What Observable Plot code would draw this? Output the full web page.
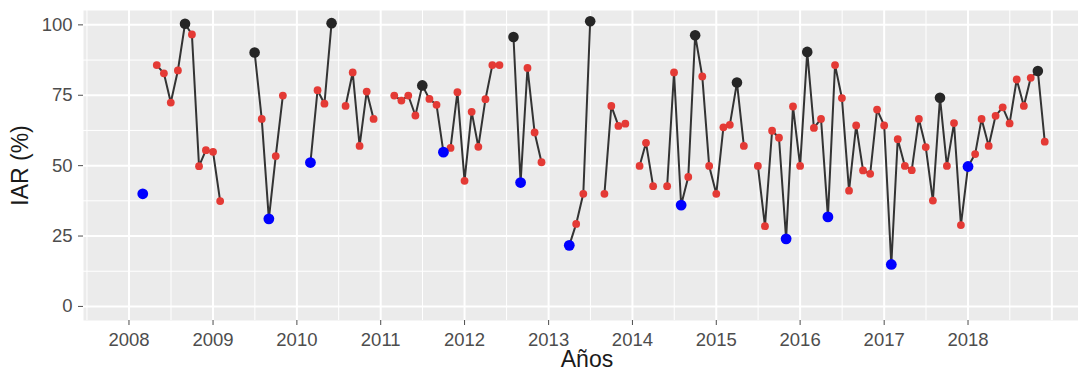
<!DOCTYPE html>
<html>
<head>
<meta charset="utf-8">
<script src="https://cdn.jsdelivr.net/npm/d3@7"></script>
<script src="https://cdn.jsdelivr.net/npm/@observablehq/plot@0.6"></script>
<style>
  html, body { margin: 0; padding: 0; background: #ffffff; }
  #chart svg { display: block; }
</style>
</head>
<body>
<div id="chart"></div>
<script>
// Monthly IAR (%) values, January..December; null = month without data
const anios = [2008, 2009, 2010, 2011, 2012, 2013, 2014, 2015, 2016, 2017, 2018];
const iar2008 = [null, null, 40.0, null, 85.7, 82.8, 72.4, 83.8, 100.4, 96.6, 49.8, 55.5];
const iar2009 = [54.9, 37.4, null, null, null, null, 90.2, 66.6, 31.1, 53.4, 74.9, null];
const iar2010 = [null, null, 51.1, 76.8, 72.0, 100.6, null, 71.2, 83.1, 57.0, 76.3, 66.6];
const iar2011 = [null, null, 74.9, 73.1, 74.9, 67.8, 78.5, 73.7, 71.6, 54.8, 56.3, 76.1];
const iar2012 = [44.6, 69.1, 56.7, 73.6, 85.7, 85.7, null, 95.7, 44.0, 84.7, 61.8, 51.2];
const iar2013 = [null, null, null, 21.7, 29.3, 40.0, 101.3, null, 40.0, 71.2, 64.1, 64.9];
const iar2014 = [null, 49.9, 58.1, 42.7, null, 42.7, 83.1, 36.0, 46.0, 96.3, 81.7, 49.9];
const iar2015 = [40.0, 63.6, 64.5, 79.5, 57.0, null, 49.9, 28.5, 62.4, 59.9, 24.0, 71.0];
const iar2016 = [49.9, 90.4, 63.4, 66.6, 31.8, 85.7, 74.0, 41.1, 64.3, 48.3, 47.1, 69.9];
const iar2017 = [64.3, 14.9, 59.4, 49.9, 48.4, 66.6, 56.6, 37.6, 74.1, 49.9, 65.1, 28.9];
const iar2018 = [49.7, 54.1, 66.6, 57.0, 67.7, 70.7, 65.0, 80.6, 71.2, 81.2, 83.6, 58.5];
const iarPorAnio = [iar2008, iar2009, iar2010, iar2011, iar2012, iar2013, iar2014, iar2015, iar2016, iar2017, iar2018];

// Month (1-12) of each year's maximum and minimum
const mesMaximo = [9, 7, 6, 7, 8, 7, 10, 4, 2, 9, 11];
const mesMinimo = [3, 9, 3, 10, 9, 4, 8, 11, 5, 2, 1];

// Axis ticks
const ticksY = [0, 25, 50, 75, 100];
const ticksYMenores = [12.5, 37.5, 62.5, 87.5];
const aniosEtiqueta = [2008, 2009, 2010, 2011, 2012, 2013, 2014, 2015, 2016, 2017, 2018];
const aniosRejilla = [2008, 2009, 2010, 2011, 2012, 2013, 2014, 2015, 2016, 2017, 2018, 2019];
const aniosMedios = [2007, 2008, 2009, 2010, 2011, 2012, 2013, 2014, 2015, 2016, 2017, 2018];

// Long table: one row per month, keeping nulls so the line breaks at gaps
const filas = [];
anios.forEach((anio, i) => {
  iarPorAnio[i].forEach((valor, m) => {
    const tipo = (m + 1) === mesMaximo[i] ? "max" : (m + 1) === mesMinimo[i] ? "min" : "normal";
    filas.push({fecha: new Date(Date.UTC(anio, m, 1)), iar: valor, tipo});
  });
});
const normales = filas.filter(d => d.iar != null && d.tipo === "normal");
const maximos = filas.filter(d => d.iar != null && d.tipo === "max");
const minimos = filas.filter(d => d.iar != null && d.tipo === "min");

const inicioAnio = y => new Date(Date.UTC(y, 0, 1));
const mitadAnio = y => new Date(Date.UTC(y, 6, 2));

const gris = "#4d4d4d";
const chart = Plot.plot({
  width: 1078,
  height: 371,
  marginLeft: 83,
  marginRight: 0,
  marginTop: 10,
  marginBottom: 51,
  style: {fontFamily: "'Liberation Sans', Arial, Helvetica, sans-serif", background: "#ffffff"},
  x: {type: "utc", domain: [new Date(Date.UTC(2007, 5, 17)), new Date(Date.UTC(2019, 3, 27))]},
  y: {domain: [-5, 105.1]},
  marks: [
    Plot.frame({fill: "#ebebeb", stroke: "none"}),
    // minor grid
    Plot.ruleY(ticksYMenores, {stroke: "#ffffff", strokeWidth: 1}),
    Plot.ruleX(aniosMedios.map(mitadAnio), {stroke: "#ffffff", strokeWidth: 1}),
    // major grid
    Plot.ruleY(ticksY, {stroke: "#ffffff", strokeWidth: 2}),
    Plot.ruleX(aniosRejilla.map(inicioAnio), {stroke: "#ffffff", strokeWidth: 2}),
    Plot.axisY({ticks: ticksY, tickSize: 5, tickPadding: 6, fontSize: 18.5, color: gris, label: null}),
    Plot.axisX({
      ticks: aniosEtiqueta.map(inicioAnio),
      tickFormat: d => String(d.getUTCFullYear()),
      tickSize: 5, tickPadding: 7, fontSize: 18.5, color: gris, label: null
    }),
    // series
    Plot.line(filas, {x: "fecha", y: "iar", stroke: "#333333", strokeWidth: 2}),
    Plot.dot(normales, {x: "fecha", y: "iar", r: 3.9, fill: "#e43a35"}),
    Plot.dot(maximos, {x: "fecha", y: "iar", r: 5.3, fill: "#262626"}),
    Plot.dot(minimos, {x: "fecha", y: "iar", r: 5.4, fill: "#0000ff"}),
    // axis titles
    Plot.text(["Años"], {frameAnchor: "bottom", dx: 6, dy: 46, lineAnchor: "bottom", textAnchor: "middle", fontSize: 23, fill: "#1a1a1a"}),
    Plot.text(["IAR (%)"], {frameAnchor: "left", dx: -62.5, rotate: -90, lineAnchor: "middle", textAnchor: "middle", fontSize: 23, fill: "#1a1a1a"})
  ]
});
document.getElementById("chart").appendChild(chart);
</script>
</body>
</html>
